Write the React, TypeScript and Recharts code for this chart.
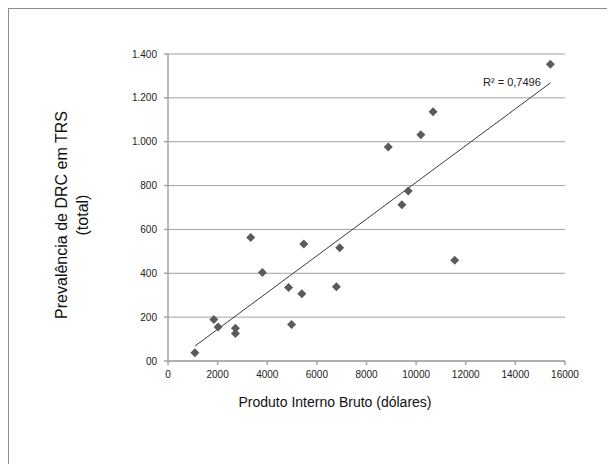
import React from 'react';
import {
    ScatterChart,
    Scatter,
    XAxis,
    YAxis,
    CartesianGrid,
    ReferenceLine,
} from 'recharts';

// PIB (dólares) x prevalência de DRC em TRS, um ponto por país
const pibValues = [
    1084, 1847, 2020, 2718, 2718, 3333, 3803, 4859, 4980, 5474,
    5394, 6787, 6920, 8876, 9426, 9679, 10188, 10683, 11554, 15410,
];
const prevalenceValues = [
    38, 189, 155, 149, 125, 563, 404, 335, 166, 534,
    307, 339, 517, 976, 713, 775, 1032, 1137, 459, 1353,
];

// linha de tendência
const trendX = [1084, 15410];
const trendY = [68, 1268];
const r2Label = 'R² = 0,7496';

const xTicks = [0, 2000, 4000, 6000, 8000, 10000, 12000, 14000, 16000];
const yTicks = [0, 200, 400, 600, 800, 1000, 1200, 1400];
const yTickLabels = ['00', '200', '400', '600', '800', '1.000', '1.200', '1.400'];

const xTitle = 'Produto Interno Bruto (dólares)';
const yTitle = ['Prevalência de DRC em TRS', '(total)'];

const data = pibValues.map((x, i) => ({ x, y: prevalenceValues[i] }));

const FONT = '"Liberation Sans", Arial, Helvetica, sans-serif';
const AXIS = '#a3a3a3';

const Diamond = (props: any) => {
    const { cx, cy } = props;
    const r = 4.5;
    return (
        <path
            d={`M${cx},${cy - r}L${cx + r},${cy}L${cx},${cy + r}L${cx - r},${cy}Z`}
            fill="#5b5b5b"
        />
    );
};

export default function App() {
    return (
        <div
            style={{
                position: 'relative',
                boxSizing: 'border-box',
                width: 607,
                height: 464,
                marginBottom: -8,
                borderTop: '1px solid #8c8c8c',
                borderLeft: '1px solid #8c8c8c',
                fontFamily: FONT,
                background: '#fff',
            }}
        >
            <ScatterChart
                width={606}
                height={454}
                margin={{ top: 45, right: 50, left: 0, bottom: 72 }}
                style={{ fontFamily: FONT }}
            >
                <CartesianGrid vertical={false} stroke={AXIS} strokeWidth={1} />
                <XAxis
                    type="number"
                    dataKey="x"
                    domain={[0, 16000]}
                    ticks={xTicks}
                    height={30}
                    stroke={AXIS}
                    strokeWidth={1.5}
                    tickSize={4}
                    tickMargin={6}
                    tick={{ fill: '#222', fontSize: 10 }}
                    interval={0}
                />
                <YAxis
                    type="number"
                    dataKey="y"
                    domain={[0, 1400]}
                    ticks={yTicks}
                    width={159}
                    stroke={AXIS}
                    strokeWidth={1.5}
                    tickSize={4}
                    tickMargin={7}
                    tick={{ fill: '#222', fontSize: 10 }}
                    tickFormatter={(v: number) => yTickLabels[yTicks.indexOf(v)]}
                    interval={0}
                />
                <ReferenceLine
                    segment={[
                        { x: trendX[0], y: trendY[0] },
                        { x: trendX[1], y: trendY[1] },
                    ]}
                    stroke="#3a3a3a"
                    strokeWidth={1}
                    ifOverflow="visible"
                />
                <Scatter data={data} shape={<Diamond />} isAnimationActive={false} />
            </ScatterChart>

            <div
                style={{
                    position: 'absolute',
                    left: 474,
                    top: 67,
                    fontSize: 11,
                    color: '#222',
                    whiteSpace: 'nowrap',
                }}
            >
                {r2Label}
            </div>

            <div
                style={{
                    position: 'absolute',
                    left: 326,
                    top: 385,
                    transform: 'translateX(-50%)',
                    fontSize: 14,
                    color: '#111',
                    whiteSpace: 'nowrap',
                }}
            >
                {xTitle}
            </div>

            <div
                style={{
                    position: 'absolute',
                    left: 63,
                    top: 206,
                    transform: 'translate(-50%, -50%) rotate(-90deg)',
                    fontSize: 16,
                    lineHeight: '21px',
                    color: '#111',
                    whiteSpace: 'nowrap',
                    textAlign: 'center',
                }}
            >
                {yTitle.map((t) => (
                    <div key={t}>{t}</div>
                ))}
            </div>
        </div>
    );
}
